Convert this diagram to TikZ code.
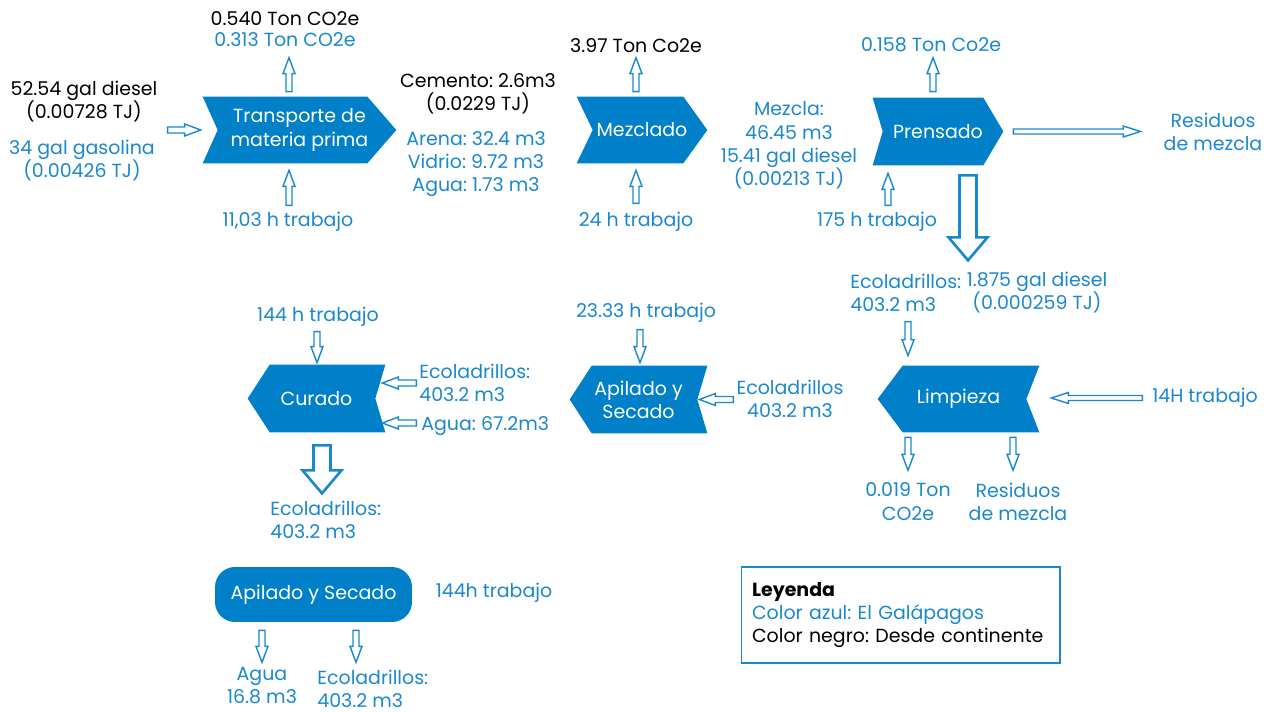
\documentclass[tikz,border=0pt]{standalone}
\usepackage{fontspec}
\setmainfont{Poppins}
\usepackage{tikz}
\usetikzlibrary{calc,backgrounds}
\frenchspacing
\definecolor{azul}{HTML}{1A88CF}
\definecolor{azulbox}{HTML}{0080C8}
\tikzstyle{lbl} = [text=azul, align=center, inner sep=0pt]
\tikzstyle{lblk} = [text=black, align=center, inner sep=0pt]
\tikzstyle{proc} = [text=white, align=center, inner sep=0pt]
\tikzstyle{flow} = [draw=azul, fill=white, line width=0.8pt, line join=miter]
\tikzstyle{bigflow} = [draw=azul, fill=white, line width=1.5pt, line join=miter]
\newcommand{\chevE}[3]{
	\begin{scope}[on background layer]
		\fill[azulbox] (#1.north west) -- ($(#1.north east)+(-#2,0)$) -- (#1.east) -- ($(#1.south east)+(-#2,0)$) -- (#1.south west) -- ($(#1.west)+(#3,0)$) -- cycle;
	\end{scope}
}
\newcommand{\chevW}[3]{
	\begin{scope}[on background layer]
		\fill[azulbox] ($(#1.north west)+(#2,0)$) -- (#1.north east) -- ($(#1.east)+(-#3,0)$) -- (#1.south east) -- ($(#1.south west)+(#2,0)$) -- (#1.west) -- cycle;
	\end{scope}
}
\newcommand{\hollow}[6]{
	\coordinate (hs) at #2;
	\coordinate (he) at #3;
	\coordinate (hb) at ($(he)!#6!(hs)$);
	\draw[#1] ($(hs)!#4!90:(he)$) -- ($(hb)!#4!90:(he)$) -- ($(hb)!#5!90:(he)$) -- (he) -- ($(hb)!#5!-90:(he)$) -- ($(hb)!#4!-90:(he)$) -- ($(hs)!#4!-90:(he)$) -- cycle;
}
\newcommand{\smallflow}[2]{\hollow{flow}{#1}{#2}{0.06cm}{0.12cm}{0.32cm}}
\newcommand{\longflow}[2]{\hollow{flow}{#1}{#2}{0.05cm}{0.11cm}{0.34cm}}
\newcommand{\bigflow}[2]{\hollow{bigflow}{#1}{#2}{0.17cm}{0.39cm}{0.46cm}}

\begin{document}
\begin{tikzpicture}[x=0.02cm, y=-0.02cm, font=\fontsize{10.8}{13.2}\selectfont]
	\useasboundingbox (0,0) rectangle (1270,712);
	% procesos
	\node (transporte) at (299.5, 130) [proc, minimum width=3.86cm, minimum height=1.32cm] {Transporte de\\materia prima};
	\node (mezclado) at (642, 130) [proc, minimum width=2.6cm, minimum height=1.32cm] {Mezclado};
	\node (prensado) at (938, 131.5) [proc, minimum width=2.6cm, minimum height=1.34cm] {Prensado};
	\node (limpieza) at (958.5, 399) [proc, minimum width=3.22cm, minimum height=1.32cm] {Limpieza};
	\node (apilado) at (638.5, 399.5) [proc, minimum width=2.74cm, minimum height=1.34cm] {Apilado y\\Secado};
	\node (curado) at (316.5, 398.5) [proc, minimum width=2.74cm, minimum height=1.34cm] {Curado};
	\node (secado) at (313.5, 594.5) [proc, fill=azulbox, rounded corners=0.4cm, minimum width=3.94cm, minimum height=1.1cm] {Apilado y Secado};
	\chevE{transporte}{29}{15}
	\chevE{mezclado}{24}{16}
	\chevE{prensado}{20}{10}
	\chevW{limpieza}{25}{13}
	\chevW{apilado}{22}{10}
	\chevW{curado}{22}{10}

	% entradas y salidas
	\node (co2trans) at (285, 19) [lblk] {0.540 Ton CO2e};
	\node (co2transg) at (285, 40) [lbl] {0.313 Ton CO2e};
	\node (diesel) at (84, 101.5) [lblk] {52.54 gal diesel\\(0.00728 TJ)};
	\node (gasolina) at (82, 160.5) [lbl] {34 gal gasolina\\(0.00426 TJ)};
	\node (htrans) at (288, 222) [lbl] {11,03 h trabajo};
	\node (cemento) at (478, 93.5) [lblk] {Cemento: 2.6m3\\(0.0229 TJ)};
	\node (arena) at (476, 164) [lbl] {Arena: 32.4 m3\\Vidrio: 9.72 m3\\Agua: 1.73 m3};
	\node (co2mez) at (636, 46) [lblk] {3.97 Ton Co2e};
	\node (hmez) at (636, 222) [lbl] {24 h trabajo};
	\node (mezcla) at (789, 145.5) [lbl] {Mezcla:\\46.45 m3\\15.41 gal diesel\\(0.00213 TJ)};
	\node (co2pren) at (931, 45) [lbl] {0.158 Ton Co2e};
	\node (hpren) at (877, 222) [lbl] {175 h trabajo};
	\node (residuos) at (1213, 131.5) [lbl] {Residuos\\de mezcla};
	\node (ecolimp) at (850, 292.5) [lbl, anchor=west, align=left] {Ecoladrillos:\\403.2 m3};
	\node (diesellimp) at (1037, 292.5) [lbl] {1.875 gal diesel\\(0.000259 TJ)};
	\node (hlimp) at (1205, 398) [lbl] {14H trabajo};
	\node (co2limp) at (908, 501.5) [lbl] {0.019 Ton\\CO2e};
	\node (residuoslimp) at (1018, 501.5) [lbl] {Residuos\\de mezcla};
	\node (hapi) at (646, 313) [lbl] {23.33 h trabajo};
	\node (ecoapi) at (790, 399) [lbl] {Ecoladrillos\\403.2 m3};
	\node (hcur) at (318, 317) [lbl] {144 h trabajo};
	\node (ecocur) at (419, 382.5) [lbl, anchor=west, align=left] {Ecoladrillos:\\403.2 m3};
	\node (aguacur) at (421, 426) [lbl, anchor=west] {Agua: 67.2m3};
	\node (ecoout) at (270, 519.5) [lbl, anchor=west, align=left] {Ecoladrillos:\\403.2 m3};
	\node (hsec) at (494, 593) [lbl] {144h trabajo};
	\node (aguasec) at (262, 686) [lbl] {Agua\\16.8 m3};
	\node (ecosec) at (317, 688.5) [lbl, anchor=west, align=left] {Ecoladrillos:\\403.2 m3};

	% leyenda
	\node (leyenda) at (900.5, 615) [draw=azul, line width=0.6pt, align=left, inner xsep=0.22cm, text width=5.94cm, minimum height=1.92cm] {\textbf{Leyenda}\\\textcolor{azul}{Color azul: El Galápagos}\\Color negro: Desde continente};

	% flechas
	\smallflow{($(transporte.west)+(-35,0)$)}{($(transporte.west)+(-2,0)$)}
	\smallflow{($(transporte.north)+(-10.5,-5)$)}{($(transporte.north)+(-10.5,-39)$)}
	\smallflow{($(transporte.south)+(-10.5,42)$)}{($(transporte.south)+(-10.5,7)$)}
	\smallflow{($(mezclado.north)+(-6,-5)$)}{($(mezclado.north)+(-6,-39)$)}
	\smallflow{($(mezclado.south)+(-6,40)$)}{($(mezclado.south)+(-6,7)$)}
	\smallflow{($(prensado.north)+(-5,-6)$)}{($(prensado.north)+(-5,-40)$)}
	\smallflow{($(prensado.south)+(-50,40)$)}{($(prensado.south)+(-50,8)$)}
	\longflow{($(prensado.east)+(10,0)$)}{($(prensado.east)+(137,0)$)}
	\bigflow{($(prensado.south)+(30,10)$)}{($(prensado.south)+(30,95)$)}
	\smallflow{($(limpieza.north)+(-50.5,-44)$)}{($(limpieza.north)+(-50.5,-10)$)}
	\longflow{($(limpieza.east)+(103,-1)$)}{($(limpieza.east)+(12,-1)$)}
	\smallflow{($(limpieza.south)+(-50.5,5)$)}{($(limpieza.south)+(-50.5,38)$)}
	\smallflow{($(limpieza.south)+(54.5,5)$)}{($(limpieza.south)+(54.5,38)$)}
	\smallflow{($(apilado.north)+(1.5,-36)$)}{($(apilado.north)+(1.5,-3)$)}
	\smallflow{($(apilado.east)+(26,0)$)}{($(apilado.east)+(-8,0)$)}
	\smallflow{($(curado.north)+(0.5,-33)$)}{($(curado.north)+(0.5,-2)$)}
	\smallflow{($(curado.east)+(31,-15.5)$)}{($(curado.east)+(-3,-15.5)$)}
	\smallflow{($(curado.east)+(31,24.5)$)}{($(curado.east)+(-3,24.5)$)}
	\bigflow{($(curado.south)+(5.5,13)$)}{($(curado.south)+(5.5,61)$)}
	\smallflow{($(secado.south)+(-51.5,8)$)}{($(secado.south)+(-51.5,40)$)}
	\smallflow{($(secado.south)+(42.5,8)$)}{($(secado.south)+(42.5,40)$)}
\end{tikzpicture}
\end{document}
